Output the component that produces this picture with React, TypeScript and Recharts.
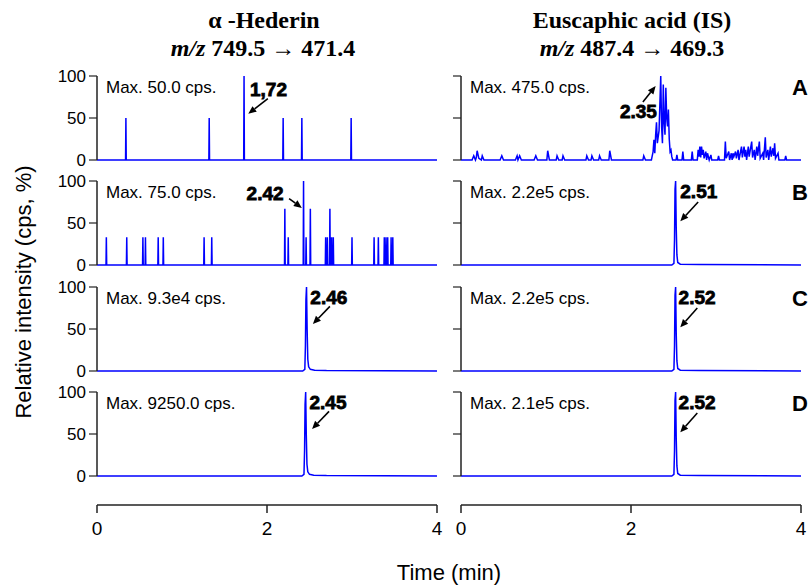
import React from 'react';
import { LineChart, Line, XAxis, YAxis, ReferenceLine, ReferenceDot } from 'recharts';

// ---------- data ----------
const timeTicks = [0, 2, 4];
const intensityTicks = [0, 50, 100];

// Row A, α-Hederin (blank): isolated single-scan spikes
const aLeftSpikeTimes = [0.34, 1.32, 1.73, 2.19, 2.41, 2.99];
const aLeftSpikeValues = [50, 50, 100, 50, 50, 50];

// Row B, α-Hederin noise spikes
const bLeftSpikeTimes = [0.11, 0.35, 0.54, 0.57, 0.72, 0.78, 1.26, 1.35, 2.21, 2.25, 2.43, 2.46, 2.51, 2.69, 2.71, 2.74, 2.76, 2.78, 3.0, 3.26, 3.31, 3.38, 3.4, 3.42, 3.46, 3.48];
const bLeftSpikeValues = [33, 33, 33, 33, 33, 33, 33, 33, 67, 33, 100, 33, 67, 33, 33, 67, 33, 33, 33, 33, 33, 33, 33, 33, 33, 33];

// Row C / D α-Hederin peaks
const cLeftTimes = [0, 2.42, 2.445, 2.452, 2.458, 2.465, 2.472, 2.48, 2.49, 2.51, 2.56, 2.7, 4];
const cLeftValues = [0, 0, 2, 30, 85, 100, 50, 14, 5, 2, 1, 0.5, 0];
const dLeftTimes = [0, 2.41, 2.435, 2.442, 2.448, 2.455, 2.462, 2.47, 2.48, 2.5, 2.55, 2.7, 4];
const dLeftValues = [0, 0, 2, 30, 85, 100, 50, 14, 5, 2, 1, 0.5, 0];

// Row A, Euscaphic acid (IS) blank trace
const aRightTimes = [0, 0.13, 0.15, 0.17, 0.18, 0.19, 0.21, 0.24, 0.25, 0.27, 0.46, 0.48, 0.5, 0.64, 0.66, 0.67, 0.69, 0.71, 0.86, 0.88, 0.9, 1.01, 1.02, 1.04, 1.12, 1.13, 1.15, 1.19, 1.2, 1.22, 1.47, 1.48, 1.5, 1.53, 1.54, 1.56, 1.62, 1.63, 1.65, 1.74, 1.75, 1.77, 2.14, 2.15, 2.17,
  2.24, 2.26, 2.27, 2.28, 2.29, 2.3, 2.31, 2.33, 2.35, 2.36, 2.37, 2.38, 2.39, 2.4, 2.41, 2.42, 2.43, 2.44, 2.45, 2.46, 2.47, 2.48, 2.49,
  2.53, 2.54, 2.55, 2.6, 2.61, 2.62, 2.71, 2.72, 2.73, 2.78, 2.79, 2.8, 2.81, 2.82, 2.83, 2.84, 2.85, 2.86, 2.88, 2.89, 2.9, 2.92, 2.94, 2.95,
  3.02, 3.03, 3.04, 3.1, 3.11, 3.12, 3.15, 3.16, 3.18, 3.19, 3.2, 3.21, 3.23, 3.24, 3.26, 3.27, 3.3, 3.31, 3.33, 3.34, 3.35, 3.36, 3.38, 3.39, 3.42, 3.43, 3.45, 3.46, 3.48, 3.49, 3.51, 3.52, 3.55, 3.56, 3.58, 3.59, 3.61, 3.62, 3.64, 3.65, 3.67, 3.68, 3.69, 3.7, 3.73, 3.74, 3.81, 3.82, 3.83, 4];
const aRightValues = [0, 0, 5, 0, 3, 11, 2, 0, 5, 0, 0, 5, 0, 0, 5, 0, 5, 0, 0, 5, 0, 0, 11, 0, 0, 5, 0, 0, 5, 0, 0, 5, 0, 0, 5, 0, 0, 5, 0, 0, 11, 0, 0, 5, 0,
  0, 10, 24, 8, 30, 45, 20, 35, 100, 40, 20, 90, 45, 30, 86, 50, 40, 60, 25, 10, 12, 4, 0,
  0, 6, 0, 0, 10, 0, 0, 10, 0, 0, 12, 4, 16, 3, 16, 6, 12, 2, 10, 0, 8, 0, 6, 0,
  0, 5, 0, 0, 22, 2, 10, 0, 8, 0, 8, 4, 10, 2, 12, 0, 16, 3, 16, 4, 12, 0, 16, 4, 22, 3, 12, 0, 16, 5, 22, 2, 8, 0, 27, 3, 12, 0, 16, 4, 14, 5, 20, 2, 8, 0, 0, 5, 0, 0];

// Rows B-D, Euscaphic acid (IS) peaks
const bRightTimes = [0, 2.48, 2.505, 2.512, 2.518, 2.525, 2.532, 2.54, 2.55, 2.58, 2.8, 4];
const bRightValues = [0, 0, 2, 30, 90, 100, 45, 12, 3, 1, 0.5, 0];
const cRightTimes = [0, 2.48, 2.505, 2.512, 2.518, 2.525, 2.532, 2.54, 2.55, 2.58, 2.8, 4];
const cRightValues = [0, 0, 2, 30, 90, 100, 45, 12, 3, 1, 0.5, 0];
const dRightTimes = [0, 2.48, 2.505, 2.512, 2.518, 2.525, 2.532, 2.54, 2.55, 2.58, 2.8, 4];
const dRightValues = [0, 0, 2, 30, 90, 100, 45, 12, 3, 1, 0.5, 0];

const maxLabelsLeft = ['Max. 50.0 cps.', 'Max. 75.0 cps.', 'Max. 9.3e4 cps.', 'Max. 9250.0 cps.'];
const maxLabelsRight = ['Max. 475.0 cps.', 'Max. 2.2e5 cps.', 'Max. 2.2e5 cps.', 'Max. 2.1e5 cps.'];
const rowLetters = ['A', 'B', 'C', 'D'];
const peakLabelsLeft = ['1,72', '2.42', '2.46', '2.45'];
const peakLabelsRight = ['2.35', '2.51', '2.52', '2.52'];

// annotation anchors (data units: time, %)
const leftAnn = [
  { tx: 1.8, tv: 76, tailT: 2.01, tailV: 73, headT: 1.78, headV: 55 },
  { tx: 1.76, tv: 77, tailT: 2.26, tailV: 79, headT: 2.41, headV: 68 },
  { tx: 2.51, tv: 80, tailT: 2.74, tailV: 77, headT: 2.54, headV: 56 },
  { tx: 2.5, tv: 80, tailT: 2.73, tailV: 77, headT: 2.53, headV: 56 },
];
const rightAnn = [
  { tx: 1.87, tv: 50, tailT: 2.14, tailV: 69, headT: 2.29, headV: 88 },
  { tx: 2.58, tv: 80, tailT: 2.79, tailV: 75, headT: 2.58, headV: 52 },
  { tx: 2.56, tv: 80, tailT: 2.78, tailV: 75, headT: 2.58, headV: 52 },
  { tx: 2.56, tv: 80, tailT: 2.78, tailV: 75, headT: 2.58, headV: 52 },
];

// ---------- helpers ----------
const zip = (ts: number[], vs: number[]) => ts.map((t, i) => ({ t, v: vs[i] }));
const spikeTrace = (ts: number[], vs: number[]) => {
  const out: { t: number; v: number }[] = [{ t: 0, v: 0 }];
  ts.forEach((t, i) => {
    out.push({ t: t - 0.004, v: 0 }, { t, v: vs[i] }, { t: t + 0.004, v: 0 });
  });
  out.push({ t: 4, v: 0 });
  return out;
};

const leftData = [
  spikeTrace(aLeftSpikeTimes, aLeftSpikeValues),
  spikeTrace(bLeftSpikeTimes, bLeftSpikeValues),
  zip(cLeftTimes, cLeftValues),
  zip(dLeftTimes, dLeftValues),
];
const rightData = [
  zip(aRightTimes, aRightValues),
  zip(bRightTimes, bRightValues),
  zip(cRightTimes, cRightValues),
  zip(dRightTimes, dRightValues),
];

const SANS = '"Liberation Sans", Arial, Helvetica, sans-serif';
const SERIF = '"Liberation Serif", "Times New Roman", serif';
const BLUE = '#0000ff';
const AXIS = '#222';

const panelTops = [76, 181, 287, 392];
const PANEL_H = 84;

const Arrow = (props: any) => {
  const { x1, y1, x2, y2 } = props;
  const ang = Math.atan2(y2 - y1, x2 - x1);
  const L = 8, W = 3.5;
  const bx = x2 - L * Math.cos(ang), by = y2 - L * Math.sin(ang);
  const px = -Math.sin(ang) * W, py = Math.cos(ang) * W;
  return (
    <g>
      <line x1={x1} y1={y1} x2={bx} y2={by} stroke="#000" strokeWidth={1.6} />
      <polygon points={`${x2},${y2} ${bx + px},${by + py} ${bx - px},${by - py}`} fill="#000" />
    </g>
  );
};

const PeakText = (text: string) => (p: any) => (
  <text x={p.cx} y={p.cy} fontFamily={SANS} fontWeight="bold" fontSize={19} fill="#000" stroke="#000" strokeWidth={0.8}>
    {text}
  </text>
);

const NoTick = () => <g />;

const Panel = ({ data, isLeft, row }: { data: any[]; isLeft: boolean; row: number }) => {
  const ann = isLeft ? leftAnn[row] : rightAnn[row];
  const label = isLeft ? peakLabelsLeft[row] : peakLabelsRight[row];
  return (
    <div style={{ position: 'absolute', left: isLeft ? 40 : 404, top: panelTops[row] - 10 }}>
      <LineChart width={407} height={PANEL_H + 20} data={data} margin={{ top: 10, right: 10, bottom: 10, left: 7 }}>
        <XAxis dataKey="t" type="number" domain={[0, 4]} ticks={timeTicks} height={0} tick={false} tickLine={false} axisLine={{ stroke: AXIS, strokeWidth: 1.5 }} />
        <YAxis
          type="number"
          domain={[0, 100]}
          ticks={intensityTicks}
          width={50}
          interval={0}
          tickSize={8}
          tickMargin={3}
          axisLine={{ stroke: AXIS, strokeWidth: 1.5 }}
          tickLine={{ stroke: AXIS, strokeWidth: 1.2 }}
          tick={isLeft ? { fill: '#000', fontSize: 17, fontFamily: SANS } : <NoTick />}
        />
        <Line type="linear" dataKey="v" stroke={BLUE} strokeWidth={1.5} dot={false} isAnimationActive={false} />
        <ReferenceLine
          segment={[{ x: ann.tailT, y: ann.tailV }, { x: ann.headT, y: ann.headV }]}
          ifOverflow="visible"
          shape={Arrow}
        />
        <ReferenceDot x={ann.tx} y={ann.tv} r={0} ifOverflow="visible" shape={PeakText(label)} />
      </LineChart>
    </div>
  );
};

const BottomAxis = ({ isLeft }: { isLeft: boolean }) => (
  <div style={{ position: 'absolute', left: isLeft ? 40 : 404, top: 495 }}>
    <LineChart width={407} height={50} data={timeTicks.map((t) => ({ t }))} margin={{ top: 0, right: 10, bottom: 0, left: 57 }}>
      <XAxis
        dataKey="t"
        type="number"
        domain={[0, 4]}
        ticks={timeTicks}
        interval={0}
        height={40}
        tickSize={8}
        tickMargin={9}
        axisLine={{ stroke: AXIS, strokeWidth: 1.5 }}
        tickLine={{ stroke: AXIS, strokeWidth: 1.5 }}
        tick={{ fill: '#000', fontSize: 19, fontFamily: SANS }}
      />
      <YAxis hide domain={[0, 1]} />
    </LineChart>
  </div>
);

export default function App() {
  return (
    <div style={{ position: 'absolute', left: 0, top: 0, width: 812, height: 588, background: '#fff', overflow: 'hidden' }}>
      {[0, 1, 2, 3].map((r) => (
        <React.Fragment key={r}>
          <Panel data={leftData[r]} isLeft row={r} />
          <Panel data={rightData[r]} isLeft={false} row={r} />
        </React.Fragment>
      ))}
      <BottomAxis isLeft />
      <BottomAxis isLeft={false} />
      <svg width={812} height={588} style={{ position: 'absolute', left: 0, top: 0, pointerEvents: 'none' }}>
        <g fontFamily={SERIF} fontWeight="bold" fontSize={24} fill="#000" textAnchor="middle">
          <text x={264} y={28}>α -Hederin</text>
          <text x={263} y={56}>
            <tspan fontStyle="italic">m/z</tspan> 749.5 → 471.4
          </text>
          <text x={632} y={28}>Euscaphic acid (IS)</text>
          <text x={632} y={56}>
            <tspan fontStyle="italic">m/z</tspan> 487.4 → 469.3
          </text>
        </g>
        {panelTops.map((top, r) => (
          <g key={r} fontFamily={SANS} fill="#000">
            <text x={106} y={top + 17} fontSize={17}>{maxLabelsLeft[r]}</text>
            <text x={470} y={top + 17} fontSize={17}>{maxLabelsRight[r]}</text>
            <text x={808} y={top + 19} fontSize={22} fontWeight="bold" textAnchor="end">{rowLetters[r]}</text>
          </g>
        ))}
        <text x={0} y={0} transform="translate(31,292) rotate(-90)" textAnchor="middle" fontFamily={SANS} fontSize={22} fill="#000">
          Relative intensity (cps, %)
        </text>
        <text x={449} y={580} textAnchor="middle" fontFamily={SANS} fontSize={22} fill="#000">
          Time (min)
        </text>
      </svg>
    </div>
  );
}
